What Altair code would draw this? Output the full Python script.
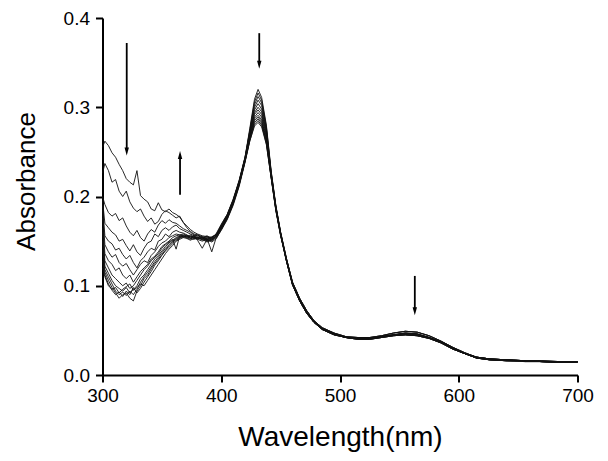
import altair as alt
import pandas as pd

# Wavelength grids (nm)
WL_UV = [300, 302, 305, 308, 311, 314, 317, 320, 323, 326, 329, 332, 335, 338, 341, 344,
         347, 350, 353, 356, 359, 362, 365, 368, 371, 374, 377, 380, 384, 388, 392, 396]
WL_SORET = [400, 405, 410, 415, 420, 424, 428, 431, 434, 438, 442, 446, 450]
WL_VIS = [455, 460, 466, 472, 478, 485, 495, 505, 515, 525, 535, 545, 555, 565, 575, 585,
          595, 605, 615, 626, 640, 656, 670, 685, 700]

# Absorbance, UV part, one list per spectrum
UV = [
    [0.255, 0.262, 0.257, 0.249, 0.244, 0.236, 0.229, 0.220, 0.216, 0.213, 0.229, 0.201, 0.197, 0.194, 0.186, 0.184, 0.193, 0.185, 0.183, 0.186, 0.182, 0.180, 0.177, 0.171, 0.167, 0.163, 0.160, 0.158, 0.156, 0.155, 0.154, 0.158],
    [0.226, 0.237, 0.229, 0.216, 0.219, 0.206, 0.200, 0.206, 0.194, 0.187, 0.183, 0.186, 0.178, 0.172, 0.176, 0.169, 0.172, 0.180, 0.184, 0.182, 0.179, 0.176, 0.178, 0.171, 0.165, 0.161, 0.158, 0.157, 0.155, 0.153, 0.155, 0.157],
    [0.200, 0.191, 0.182, 0.178, 0.181, 0.173, 0.176, 0.167, 0.160, 0.156, 0.162, 0.154, 0.150, 0.158, 0.163, 0.160, 0.168, 0.173, 0.170, 0.174, 0.171, 0.170, 0.167, 0.164, 0.162, 0.160, 0.157, 0.156, 0.154, 0.156, 0.153, 0.159],
    [0.196, 0.170, 0.165, 0.160, 0.157, 0.150, 0.152, 0.145, 0.139, 0.146, 0.138, 0.134, 0.142, 0.148, 0.150, 0.158, 0.155, 0.162, 0.165, 0.162, 0.166, 0.168, 0.164, 0.162, 0.160, 0.158, 0.156, 0.157, 0.153, 0.155, 0.152, 0.157],
    [0.190, 0.156, 0.150, 0.147, 0.140, 0.142, 0.135, 0.130, 0.134, 0.126, 0.120, 0.128, 0.132, 0.138, 0.142, 0.140, 0.150, 0.152, 0.158, 0.155, 0.160, 0.162, 0.160, 0.159, 0.157, 0.155, 0.156, 0.154, 0.155, 0.152, 0.154, 0.158],
    [0.185, 0.146, 0.138, 0.132, 0.135, 0.126, 0.122, 0.125, 0.118, 0.112, 0.118, 0.124, 0.128, 0.126, 0.134, 0.138, 0.144, 0.148, 0.150, 0.154, 0.156, 0.158, 0.157, 0.156, 0.155, 0.157, 0.154, 0.153, 0.152, 0.154, 0.151, 0.156],
    [0.176, 0.136, 0.128, 0.124, 0.117, 0.120, 0.112, 0.108, 0.112, 0.104, 0.110, 0.116, 0.120, 0.124, 0.130, 0.133, 0.138, 0.144, 0.147, 0.150, 0.154, 0.156, 0.157, 0.158, 0.156, 0.154, 0.155, 0.152, 0.154, 0.150, 0.153, 0.155],
    [0.165, 0.128, 0.120, 0.112, 0.108, 0.104, 0.100, 0.103, 0.097, 0.100, 0.106, 0.112, 0.118, 0.122, 0.128, 0.132, 0.136, 0.142, 0.146, 0.149, 0.152, 0.141, 0.156, 0.155, 0.157, 0.153, 0.156, 0.151, 0.142, 0.152, 0.150, 0.156],
    [0.160, 0.122, 0.114, 0.106, 0.100, 0.097, 0.094, 0.098, 0.092, 0.096, 0.100, 0.108, 0.112, 0.118, 0.124, 0.130, 0.134, 0.139, 0.144, 0.148, 0.151, 0.154, 0.156, 0.154, 0.156, 0.155, 0.153, 0.154, 0.153, 0.151, 0.154, 0.157],
    [0.150, 0.118, 0.110, 0.102, 0.094, 0.090, 0.093, 0.089, 0.094, 0.090, 0.096, 0.104, 0.110, 0.115, 0.121, 0.127, 0.132, 0.137, 0.142, 0.146, 0.150, 0.153, 0.155, 0.157, 0.153, 0.156, 0.154, 0.155, 0.151, 0.153, 0.138, 0.155],
    [0.140, 0.115, 0.106, 0.098, 0.092, 0.086, 0.090, 0.092, 0.086, 0.083, 0.094, 0.100, 0.108, 0.112, 0.119, 0.125, 0.130, 0.135, 0.140, 0.145, 0.149, 0.152, 0.154, 0.155, 0.154, 0.152, 0.155, 0.153, 0.154, 0.150, 0.152, 0.156],
    [0.128, 0.112, 0.102, 0.095, 0.090, 0.093, 0.088, 0.094, 0.090, 0.098, 0.092, 0.097, 0.104, 0.110, 0.116, 0.123, 0.128, 0.134, 0.139, 0.143, 0.147, 0.151, 0.153, 0.156, 0.155, 0.153, 0.152, 0.154, 0.152, 0.149, 0.151, 0.154],
    [0.120, 0.110, 0.100, 0.096, 0.098, 0.092, 0.096, 0.099, 0.102, 0.095, 0.098, 0.102, 0.100, 0.106, 0.112, 0.118, 0.124, 0.130, 0.136, 0.141, 0.145, 0.150, 0.152, 0.154, 0.153, 0.151, 0.153, 0.152, 0.150, 0.152, 0.149, 0.153],
]

# Soret band part, one list per spectrum
SORET = [
    [0.168, 0.180, 0.196, 0.217, 0.244, 0.276, 0.309, 0.320, 0.311, 0.280, 0.229, 0.190, 0.160],
    [0.167, 0.179, 0.195, 0.216, 0.243, 0.274, 0.306, 0.316, 0.308, 0.278, 0.228, 0.189, 0.160],
    [0.169, 0.180, 0.197, 0.218, 0.244, 0.273, 0.303, 0.312, 0.305, 0.276, 0.227, 0.189, 0.159],
    [0.166, 0.178, 0.194, 0.215, 0.242, 0.271, 0.300, 0.308, 0.302, 0.274, 0.226, 0.188, 0.159],
    [0.167, 0.179, 0.196, 0.217, 0.243, 0.270, 0.297, 0.304, 0.298, 0.272, 0.226, 0.188, 0.159],
    [0.165, 0.177, 0.193, 0.214, 0.241, 0.268, 0.294, 0.300, 0.295, 0.270, 0.225, 0.187, 0.158],
    [0.166, 0.178, 0.195, 0.216, 0.242, 0.268, 0.292, 0.297, 0.292, 0.268, 0.224, 0.187, 0.158],
    [0.164, 0.176, 0.192, 0.213, 0.240, 0.266, 0.289, 0.294, 0.289, 0.266, 0.223, 0.186, 0.158],
    [0.165, 0.177, 0.194, 0.215, 0.241, 0.266, 0.287, 0.291, 0.286, 0.264, 0.223, 0.186, 0.157],
    [0.163, 0.175, 0.191, 0.212, 0.239, 0.264, 0.285, 0.289, 0.284, 0.262, 0.222, 0.185, 0.157],
    [0.164, 0.176, 0.193, 0.214, 0.240, 0.264, 0.283, 0.287, 0.282, 0.261, 0.222, 0.185, 0.157],
    [0.162, 0.174, 0.190, 0.211, 0.238, 0.262, 0.281, 0.285, 0.280, 0.259, 0.221, 0.184, 0.156],
    [0.163, 0.175, 0.192, 0.213, 0.239, 0.262, 0.279, 0.283, 0.278, 0.258, 0.221, 0.184, 0.156],
]

# Visible part variants
VIS = {
    "A": [0.130, 0.104, 0.086, 0.072, 0.061, 0.053, 0.047, 0.043, 0.042, 0.042, 0.044, 0.047, 0.049, 0.048, 0.044, 0.038, 0.031, 0.025, 0.020, 0.018, 0.017, 0.016, 0.016, 0.015, 0.015],
    "B": [0.128, 0.102, 0.084, 0.070, 0.060, 0.052, 0.046, 0.042, 0.041, 0.041, 0.043, 0.045, 0.047, 0.046, 0.042, 0.037, 0.030, 0.024, 0.020, 0.018, 0.017, 0.016, 0.015, 0.015, 0.015],
    "C": [0.127, 0.101, 0.083, 0.069, 0.059, 0.051, 0.045, 0.042, 0.040, 0.040, 0.042, 0.044, 0.045, 0.044, 0.041, 0.036, 0.029, 0.024, 0.019, 0.017, 0.016, 0.016, 0.015, 0.014, 0.014],
    "D": [0.129, 0.103, 0.085, 0.070, 0.060, 0.052, 0.046, 0.042, 0.041, 0.041, 0.043, 0.045, 0.046, 0.045, 0.042, 0.037, 0.030, 0.024, 0.019, 0.017, 0.016, 0.015, 0.015, 0.014, 0.015],
}
VIS_OF = ["A", "A", "B", "A", "B", "B", "C", "B", "C", "D", "C", "C", "D"]

# Arrows (wavelength, start absorbance, tip absorbance, direction)
ARROW_X = [320.4, 365.3, 432.0, 563.0]
ARROW_FROM = [0.372, 0.202, 0.383, 0.111]
ARROW_TIP = [0.246, 0.251, 0.343, 0.067]
ARROW_DIR = ["down", "up", "down", "down"]

rows = []
for i in range(len(UV)):
    wl = WL_UV + WL_SORET + WL_VIS
    ab = UV[i] + SORET[i] + VIS[VIS_OF[i]]
    for w, a in zip(wl, ab):
        rows.append({"wl": w, "absb": a, "series": i})
spectra = pd.DataFrame(rows)

arrows = pd.DataFrame({
    "x": ARROW_X,
    "y": ARROW_FROM,
    "tip": ARROW_TIP,
    "dir": ARROW_DIR,
})
arrows["y2"] = [t + (0.006 if d == "down" else -0.006) for t, d in zip(ARROW_TIP, ARROW_DIR)]

xscale = alt.Scale(domain=[300, 700], nice=False, zero=False)
yscale = alt.Scale(domain=[0, 0.4], nice=False)

lines = alt.Chart(spectra).mark_line(color="#111111", strokeWidth=0.9).encode(
    x=alt.X("wl:Q", scale=xscale,
            axis=alt.Axis(title="Wavelength(nm)", values=[300, 400, 500, 600, 700], format="d")),
    y=alt.Y("absb:Q", scale=yscale,
            axis=alt.Axis(title="Absorbance", values=[0, 0.1, 0.2, 0.3, 0.4], format=".1f",
                          titleY=163)),
    detail="series:N",
)

stems = alt.Chart(arrows).mark_rule(color="black", strokeWidth=1.8).encode(
    x=alt.X("x:Q", scale=xscale),
    y=alt.Y("y:Q", scale=yscale),
    y2="y2:Q",
)

heads = alt.Chart(arrows).mark_point(filled=True, color="black", opacity=1, size=64).encode(
    x=alt.X("x:Q", scale=xscale),
    y=alt.Y("tip:Q", scale=yscale),
    shape=alt.Shape("dir:N", scale=alt.Scale(domain=["down", "up"],
                    range=["M-0.55,-2L0.55,-2L0,0Z", "M-0.55,2L0.55,2L0,0Z"]), legend=None),
)

chart = alt.layer(lines, stems, heads).properties(
    width=475, height=357,
    autosize=alt.AutoSizeParams(type="none"),
    padding={"left": 94.5, "top": 10, "right": 20, "bottom": 80},
).configure_view(stroke=None).configure_axis(
    grid=False, labelFlush=False,
    domainColor="black", domainWidth=2,
    tickColor="black", tickWidth=2, tickSize=7,
    labelFont="Liberation Sans", labelFontSize=19, labelColor="black",
    titleFont="Liberation Sans", titleFontWeight="normal", titleColor="black",
).configure_axisX(
    labelPadding=4, titlePadding=18, titleFontSize=28,
).configure_axisY(
    labelPadding=6, titlePadding=24, titleFontSize=26,
)

chart.save("out.html", embed_options={"renderer": "svg", "actions": False})
